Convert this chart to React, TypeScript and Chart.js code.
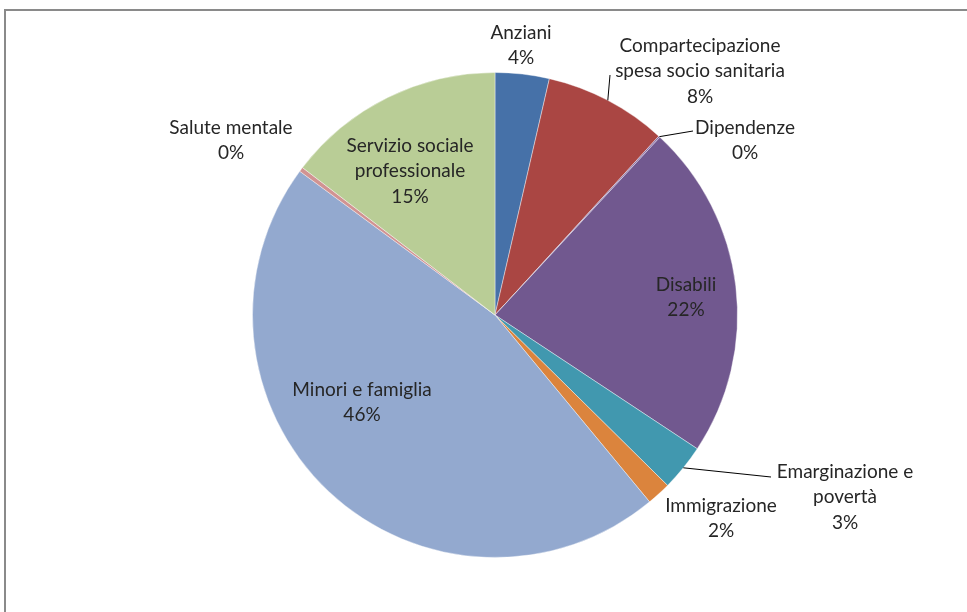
import React, { useEffect, useRef } from "react";
import { Chart, registerables } from "chart.js";

Chart.register(...registerables);

const categories = [
  "Anziani",
  "Compartecipazione spesa socio sanitaria",
  "Dipendenze",
  "Disabili",
  "Emarginazione e povertà",
  "Immigrazione",
  "Minori e famiglia",
  "Salute mentale",
  "Servizio sociale professionale",
];
const values = [3.6, 8.2, 0.1, 22.4, 3.1, 1.6, 46.1, 0.3, 14.6];
const colors = [
  "#4671A8",
  "#AA4643",
  "#8064A2",
  "#71588F",
  "#4198AF",
  "#DB843D",
  "#93A9CF",
  "#D19392",
  "#B9CD96",
];
// label text lines (category split over lines)
const labelLines = [
  ["Anziani"],
  ["Compartecipazione", "spesa socio sanitaria"],
  ["Dipendenze"],
  ["Disabili"],
  ["Emarginazione e", "povertà"],
  ["Immigrazione"],
  ["Minori e famiglia"],
  ["Salute mentale"],
  ["Servizio sociale", "professionale"],
];

// label block centre relative to pie centre (px) and optional leader line end
const labelLayout = [
  { dx: 26, dy: -269.5, leader: false },
  { dx: 205, dy: -244, leader: true, lx: 115, ly: -240 },
  { dx: 250, dy: -174.5, leader: true, lx: 198, ly: -184 },
  { dx: 191, dy: -17.5, leader: false },
  { dx: 350, dy: 182, leader: true, lx: 276, ly: 162 },
  { dx: 226, dy: 203.5, leader: false },
  { dx: -133, dy: 87.5, leader: false },
  { dx: -264, dy: -174.5, leader: false },
  { dx: -85, dy: -144, leader: false },
];

const FONT = "19px Lato, 'Open Sans', sans-serif";
const LINE_H = 25.5;

const labelPlugin = {
  id: "pieLabels",
  afterDraw(chart: any) {
    const ctx = chart.ctx;
    const meta = chart.getDatasetMeta(0);
    const data = chart.data.datasets[0].data as number[];
    const total = data.reduce((a, b) => a + b, 0);
    ctx.save();
    ctx.font = FONT;
    ctx.fillStyle = "#262626";
    ctx.textAlign = "center";
    ctx.textBaseline = "middle";
    meta.data.forEach((arc: any, i: number) => {
      const p = arc.getProps(["x", "y", "startAngle", "endAngle", "outerRadius"], true);
      const lay = labelLayout[i];
      const lines = [...labelLines[i], Math.round((data[i] / total) * 100) + "%"];
      const n = lines.length;
      const cx = p.x + lay.dx;
      const cy = p.y + lay.dy;
      lines.forEach((t, k) => {
        ctx.fillText(t, cx, cy + (k - (n - 1) / 2) * LINE_H);
      });
      if (lay.leader) {
        const mid = (p.startAngle + p.endAngle) / 2;
        const sx = p.x + Math.cos(mid) * p.outerRadius;
        const sy = p.y + Math.sin(mid) * p.outerRadius;
        ctx.beginPath();
        ctx.strokeStyle = "#000";
        ctx.lineWidth = 1;
        ctx.moveTo(sx, sy);
        ctx.lineTo(p.x + lay.lx, p.y + lay.ly);
        ctx.stroke();
      }
    });
    ctx.restore();
  },
};

const framePlugin = {
  id: "frame",
  beforeDraw(chart: any) {
    const ctx = chart.ctx;
    ctx.save();
    ctx.fillStyle = "#fff";
    ctx.fillRect(0, 0, chart.width, chart.height);
    ctx.strokeStyle = "#8a8a8a";
    ctx.lineWidth = 2;
    ctx.beginPath();
    ctx.moveTo(5, chart.height + 5);
    ctx.lineTo(5, 10);
    ctx.lineTo(chart.width + 5, 10);
    ctx.stroke();
    ctx.restore();
  },
};

export default function App() {
  const ref = useRef<HTMLCanvasElement | null>(null);
  useEffect(() => {
    document.body.style.margin = "0";
    const chart = new Chart(ref.current as HTMLCanvasElement, {
      type: "pie",
      data: {
        labels: categories,
        datasets: [
          {
            data: values,
            backgroundColor: colors,
            borderColor: "rgba(255,255,255,0.4)",
            borderWidth: 1,
          },
        ],
      },
      options: {
        responsive: false,
        animation: false,
        layout: { padding: { top: 72, bottom: 54, left: 23, right: 0 } },
        plugins: {
          legend: { display: false },
          tooltip: { enabled: false },
        },
      },
      plugins: [framePlugin, labelPlugin],
    });
    return () => chart.destroy();
  }, []);
  return (
    <div style={{ width: 967, height: 612 }}>
      <canvas ref={ref} width={967} height={612} />
    </div>
  );
}
